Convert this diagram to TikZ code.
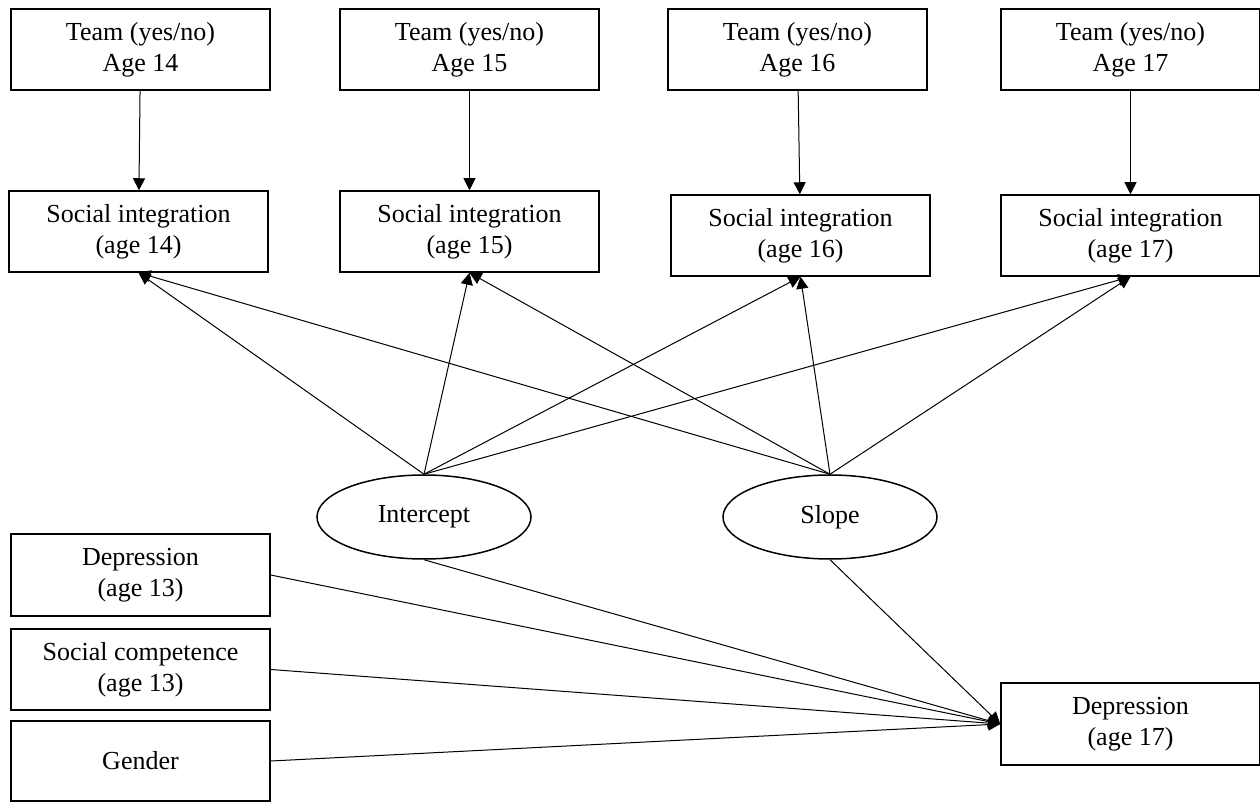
\documentclass[tikz,border=0pt]{standalone}
\usepackage{fontspec}
\setmainfont{Liberation Serif}
\usetikzlibrary{arrows.meta,shapes.geometric}
\begin{document}
\begin{tikzpicture}[x=0.5pt,y=-0.5pt,
  box/.style={draw,line width=0.75pt,rectangle,inner sep=0pt,minimum width=129.5pt,minimum height=40.5pt,align=center,font=\fontsize{13pt}{15.5pt}\selectfont},
  latent/.style={draw,line width=0.75pt,ellipse,inner sep=0pt,minimum width=107pt,minimum height=42pt,font=\fontsize{13pt}{15.5pt}\selectfont},
  conn/.style={line width=0.5pt,-{Triangle[length=6pt,width=6pt]}}]
\useasboundingbox (0,0) rectangle (1260,802);
% top row
\node[box] (t14) at (140.5,49.5) {Team (yes/no)\\Age 14};
\node[box] (t15) at (469.5,49.5) {Team (yes/no)\\Age 15};
\node[box] (t16) at (797.5,49.5) {Team (yes/no)\\Age 16};
\node[box] (t17) at (1130.5,49.5) {Team (yes/no)\\Age 17};
% social integration
\node[box] (s14) at (138.5,231.5) {Social integration\\(age 14)};
\node[box] (s15) at (469.5,231.5) {Social integration\\(age 15)};
\node[box] (s16) at (800.5,235.5) {Social integration\\(age 16)};
\node[box] (s17) at (1130.5,235.5) {Social integration\\(age 17)};
% latent
\node[latent] (int) at (424,517) {Intercept};
\node[latent] (slo) at (830,517) {Slope};
% covariates
\node[box,minimum height=41pt] (d13) at (140.5,575) {Depression\\(age 13)};
\node[box] (sc13) at (140.5,669.5) {Social competence\\(age 13)};
\node[box,minimum height=40pt] (gen) at (140.5,761) {Gender};
\node[box,minimum height=41pt] (d17) at (1130.5,724) {Depression\\(age 17)};
% team -> SI
\draw[conn] (t14) -- (s14);
\draw[conn] (t15) -- (s15);
\draw[conn] (t16) -- (s16);
\draw[conn] (t17) -- (s17);
% growth factors -> SI
\foreach \s in {s14,s15,s16,s17}{
  \draw[conn] (int.north) -- (\s.south);
  \draw[conn] (slo.north) -- (\s.south);
}
% predictors -> depression 17
\draw[conn] (d13.east) -- (d17.west);
\draw[conn] (sc13.east) -- (d17.west);
\draw[conn] (gen.east) -- (d17.west);
\draw[conn] (int.south) -- (d17.west);
\draw[conn] (slo.south) -- (d17.west);
\end{tikzpicture}
\end{document}
